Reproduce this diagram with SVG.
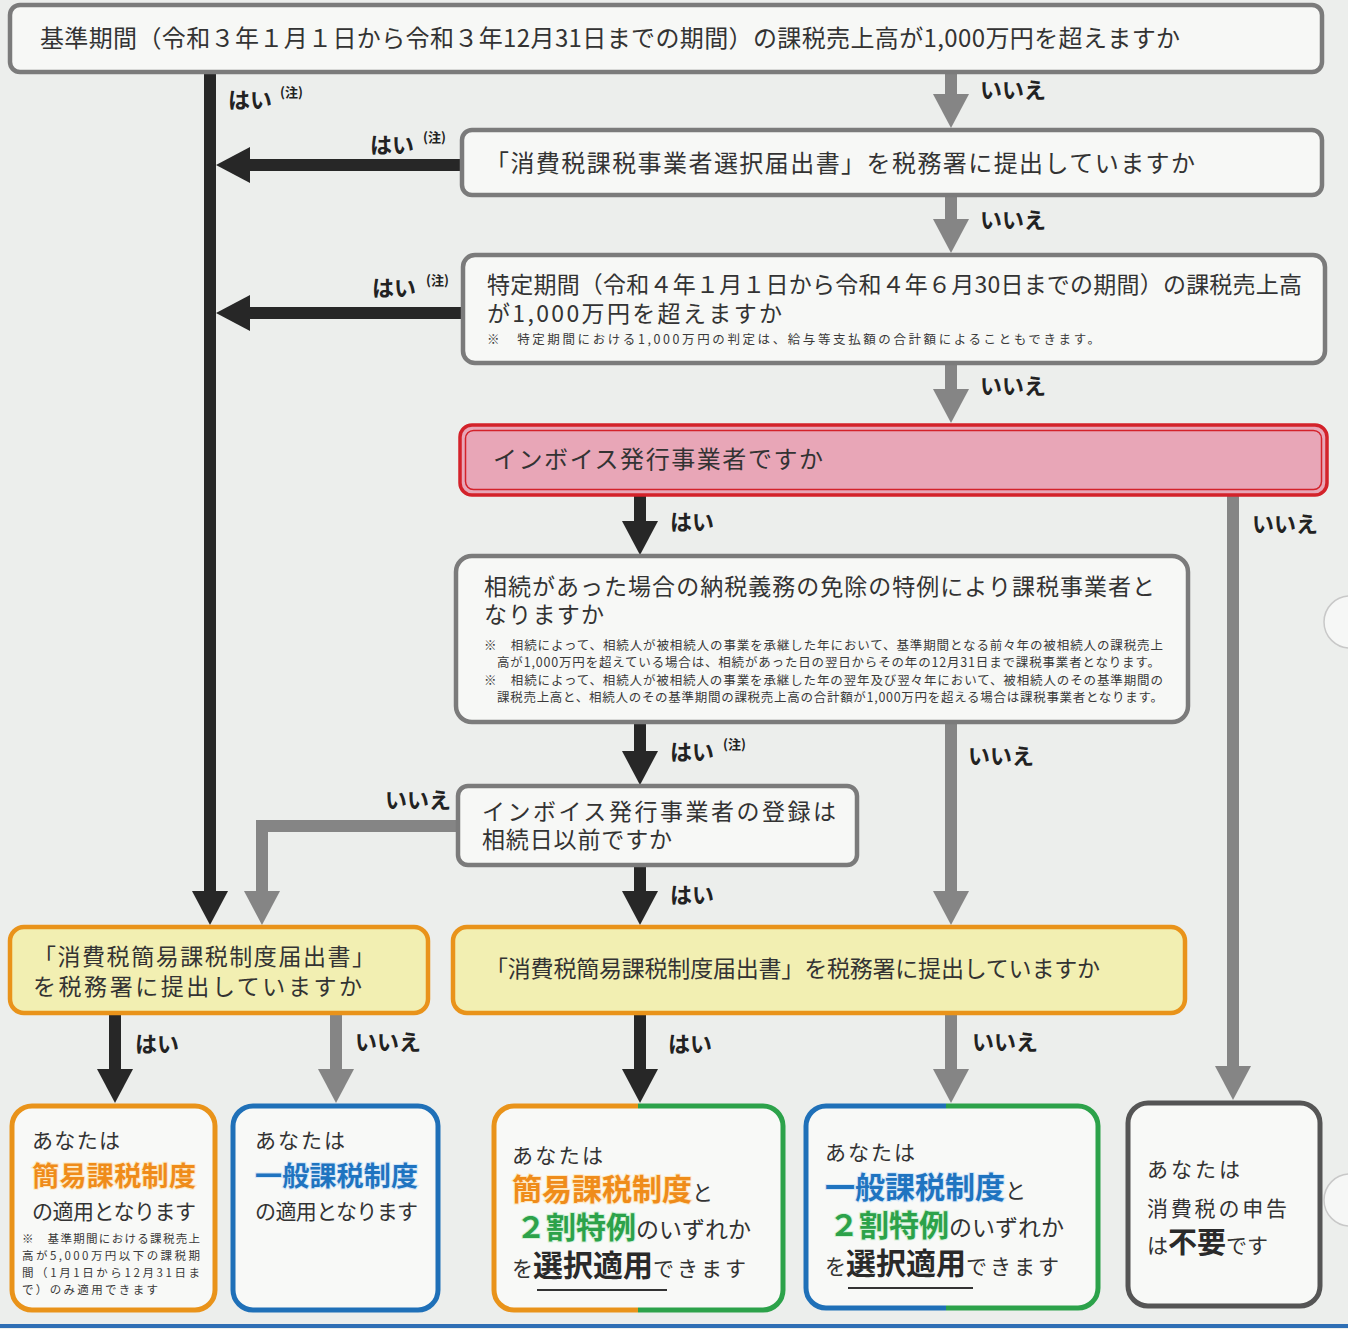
<svg xmlns="http://www.w3.org/2000/svg" width="1348" height="1329" viewBox="0 0 1348 1329">
<defs>
<style>
text{font-family:'Noto Sans CJK JP','Noto Sans',sans-serif;fill:#333}
.q{font-size:24px}
.q2{font-size:23px}
.note{font-size:12.5px;fill:#3a3a3a}
.lbl{font-size:22px;font-weight:700;fill:#222}
.chu{font-size:13px;font-weight:700;fill:#222}
.box{fill:#f7f8f6;stroke:#7b7b7b;stroke-width:4.5}
.ybox{fill:#f2efb2;stroke:#e9931a;stroke-width:4.5}
.res{fill:#f8f9f7;stroke-width:5}
.blk{fill:none;stroke:#272727;stroke-width:12;marker-end:url(#hb)}
.gry{fill:none;stroke:#858585;stroke-width:12;marker-end:url(#hg)}
.blkl{fill:none;stroke:#272727;stroke-width:12}
.r{font-size:21px;fill:#333}
.or{font-weight:700;fill:#ef8c1a;stroke:#fde9c4;stroke-width:2;paint-order:stroke}
.bl{font-weight:700;fill:#1f74c0;stroke:#d6e8f8;stroke-width:2;paint-order:stroke}
.gr{font-weight:700;fill:#2ca24a;stroke:#d4f0d8;stroke-width:2;paint-order:stroke}
.dk{font-weight:700;fill:#2a2a2a}
</style>
<marker id="hb" markerUnits="userSpaceOnUse" markerWidth="34" markerHeight="36" refX="4" refY="18" orient="auto"><path d="M0,0 L34,18 L0,36 z" fill="#272727"/></marker>
<marker id="hg" markerUnits="userSpaceOnUse" markerWidth="34" markerHeight="36" refX="4" refY="18" orient="auto"><path d="M0,0 L34,18 L0,36 z" fill="#858585"/></marker>
<clipPath id="cL"><rect x="480" y="1090" width="158" height="240"/></clipPath>
<clipPath id="cR"><rect x="638" y="1090" width="160" height="240"/></clipPath>
<clipPath id="dL"><rect x="790" y="1090" width="156" height="240"/></clipPath>
<clipPath id="dR"><rect x="946" y="1090" width="170" height="240"/></clipPath>
</defs>
<rect width="1348" height="1329" fill="#eceeec"/>
<line x1="0" y1="1326" x2="1348" y2="1326" stroke="#2f6fb5" stroke-width="4"/>
<circle cx="1350" cy="622" r="26" fill="#f6f7f6" stroke="#c8c8c8" stroke-width="1.5"/>
<circle cx="1350" cy="1200" r="26" fill="#f6f7f6" stroke="#c8c8c8" stroke-width="1.5"/>

<g id="connectors">
<path class="blkl" d="M210,72 L210,150"/>
<path class="blk" d="M210,150 L210,895"/>
<path class="blk" d="M462,165 L246,165"/>
<path class="blk" d="M463,313 L246,313"/>
<path class="gry" d="M951,72 L951,98"/>
<path class="gry" d="M951,195 L951,223"/>
<path class="gry" d="M951,363 L951,393"/>
<path class="blk" d="M640,495 L640,525"/>
<path class="gry" d="M1233,495 L1233,1070"/>
<path class="blk" d="M640,722 L640,755"/>
<path class="gry" d="M951,722 L951,895"/>
<path class="gry" d="M458,826 L262,826 L262,895" stroke-linejoin="miter"/>
<path class="blk" d="M640,865 L640,895"/>
<path class="blk" d="M115,1013 L115,1073"/>
<path class="gry" d="M336,1013 L336,1073"/>
<path class="blk" d="M640,1013 L640,1073"/>
<path class="gry" d="M951,1013 L951,1073"/>
<text class="lbl" x="228" y="108">はい</text><text class="chu" x="280" y="97">(注)</text>
<text class="lbl" x="370" y="153">はい</text><text class="chu" x="423" y="142">(注)</text>
<text class="lbl" x="372" y="296">はい</text><text class="chu" x="426" y="285">(注)</text>
<text class="lbl" x="980" y="98">いいえ</text>
<text class="lbl" x="980" y="228">いいえ</text>
<text class="lbl" x="980" y="394">いいえ</text>
<text class="lbl" x="670" y="530">はい</text>
<text class="lbl" x="1252" y="532">いいえ</text>
<text class="lbl" x="670" y="760">はい</text><text class="chu" x="723" y="749">(注)</text>
<text class="lbl" x="968" y="764">いいえ</text>
<text class="lbl" x="385" y="808">いいえ</text>
<text class="lbl" x="670" y="903">はい</text>
<text class="lbl" x="135" y="1052">はい</text>
<text class="lbl" x="355" y="1050">いいえ</text>
<text class="lbl" x="668" y="1052">はい</text>
<text class="lbl" x="972" y="1050">いいえ</text>
</g>

<g id="n1">
<rect class="box" x="10" y="5" width="1312" height="67" rx="10"/>
<text class="q" x="40" y="47" textLength="1140">基準期間（令和３年１月１日から令和３年12月31日までの期間）の課税売上高が1,000万円を超えますか</text>
</g>
<g id="n2">
<rect class="box" x="462" y="130" width="860" height="65" rx="10"/>
<text class="q" x="485" y="172" textLength="710">「消費税課税事業者選択届出書」を税務署に提出していますか</text>
</g>
<g id="n3">
<rect class="box" x="463" y="255" width="862" height="108" rx="12"/>
<text class="q2" x="487" y="293" textLength="815">特定期間（令和４年１月１日から令和４年６月30日までの期間）の課税売上高</text>
<text class="q2" x="487" y="322" textLength="295">が1,000万円を超えますか</text>
<text class="note" x="487" y="344" textLength="613">※　特定期間における1,000万円の判定は、給与等支払額の合計額によることもできます。</text>
</g>
<g id="n4">
<rect x="460" y="425" width="867" height="70" rx="12" fill="#e8a6b7" stroke="#d3222a" stroke-width="3.5"/>
<rect x="465.5" y="430.5" width="856" height="59" rx="8" fill="none" stroke="#d3222a" stroke-width="1.5"/>
<text class="q" x="493" y="468" textLength="330">インボイス発行事業者ですか</text>
</g>
<g id="n5">
<rect class="box" x="456" y="556" width="732" height="166" rx="16"/>
<text class="q2" x="484" y="595" textLength="671">相続があった場合の納税義務の免除の特例により課税事業者と</text>
<text class="q2" x="484" y="623" textLength="120">なりますか</text>
<text class="note" x="484" y="650" textLength="679">※　相続によって、相続人が被相続人の事業を承継した年において、基準期間となる前々年の被相続人の課税売上</text>
<text class="note" x="497" y="667" textLength="663">高が1,000万円を超えている場合は、相続があった日の翌日からその年の12月31日まで課税事業者となります。</text>
<text class="note" x="484" y="685" textLength="679">※　相続によって、相続人が被相続人の事業を承継した年の翌年及び翌々年において、被相続人のその基準期間の</text>
<text class="note" x="497" y="702" textLength="666">課税売上高と、相続人のその基準期間の課税売上高の合計額が1,000万円を超える場合は課税事業者となります。</text>
</g>
<g id="n6">
<rect class="box" x="458" y="786" width="399" height="79" rx="10"/>
<text class="q2" x="482" y="820" textLength="354">インボイス発行事業者の登録は</text>
<text class="q2" x="482" y="848" textLength="190">相続日以前ですか</text>
</g>
<g id="n7">
<rect class="ybox" x="10" y="927" width="418" height="86" rx="14"/>
<text class="q2" x="33" y="965" textLength="342">「消費税簡易課税制度届出書」</text>
<text class="q2" x="33" y="995" textLength="329">を税務署に提出していますか</text>
</g>
<g id="n8">
<rect class="ybox" x="453" y="927" width="732" height="86" rx="14"/>
<text class="q" x="485" y="977" textLength="615" style="font-size:23px">「消費税簡易課税制度届出書」を税務署に提出していますか</text>
</g>
<g id="r1">
<rect class="res" x="12" y="1106" width="203" height="204" rx="20" stroke="#e9931a"/>
<text class="r" x="32" y="1148" textLength="88">あなたは</text>
<text class="or" x="32" y="1186" style="font-size:27px" textLength="164">簡易課税制度</text>
<text class="r" x="32" y="1219" textLength="164">の適用となります</text>
<text class="note" x="22" y="1243" style="font-size:11.5px" textLength="178">※　基準期間における課税売上</text>
<text class="note" x="22" y="1260" style="font-size:11.5px" textLength="178">高が5,000万円以下の課税期</text>
<text class="note" x="22" y="1277" style="font-size:11.5px" textLength="178">間（1月1日から12月31日ま</text>
<text class="note" x="22" y="1294" style="font-size:11.5px" textLength="136">で）のみ適用できます</text>
</g>
<g id="r2">
<rect class="res" x="233" y="1106" width="205" height="204" rx="20" stroke="#1f70b8"/>
<text class="r" x="255" y="1148" textLength="90">あなたは</text>
<text class="bl" x="255" y="1186" style="font-size:27px" textLength="163">一般課税制度</text>
<text class="r" x="255" y="1219" textLength="163">の適用となります</text>
</g>
<g id="r3">
<rect x="494" y="1106" width="289" height="204" rx="20" fill="#f8f9f7"/>
<rect x="494" y="1106" width="289" height="204" rx="20" fill="none" stroke="#e9931a" stroke-width="5" clip-path="url(#cL)"/>
<rect x="494" y="1106" width="289" height="204" rx="20" fill="none" stroke="#2ca24a" stroke-width="5" clip-path="url(#cR)"/>
<text class="r" x="512" y="1163" textLength="91">あなたは</text>
<text x="512" y="1200"><tspan class="or" style="font-size:30px">簡易課税制度</tspan><tspan class="r">と</tspan></text>
<text x="516" y="1238"><tspan class="gr" style="font-size:30px">２割特例</tspan><tspan class="r" style="font-size:23px">のいずれか</tspan></text>
<text x="512" y="1276"><tspan class="r">を</tspan><tspan class="dk" style="font-size:30px">選択適用</tspan><tspan class="r" letter-spacing="3">できます</tspan></text>
<line x1="537" y1="1290" x2="667" y2="1290" stroke="#333" stroke-width="2"/>
</g>
<g id="r4">
<rect x="806" y="1106" width="292" height="202" rx="20" fill="#f8f9f7"/>
<rect x="806" y="1106" width="292" height="202" rx="20" fill="none" stroke="#1f70b8" stroke-width="5" clip-path="url(#dL)"/>
<rect x="806" y="1106" width="292" height="202" rx="20" fill="none" stroke="#2ca24a" stroke-width="5" clip-path="url(#dR)"/>
<text class="r" x="825" y="1160" textLength="90">あなたは</text>
<text x="825" y="1198"><tspan class="bl" style="font-size:30px">一般課税制度</tspan><tspan class="r">と</tspan></text>
<text x="829" y="1236"><tspan class="gr" style="font-size:30px">２割特例</tspan><tspan class="r" style="font-size:23px">のいずれか</tspan></text>
<text x="825" y="1274"><tspan class="r">を</tspan><tspan class="dk" style="font-size:30px">選択適用</tspan><tspan class="r" letter-spacing="3">できます</tspan></text>
<line x1="848" y1="1288" x2="973" y2="1288" stroke="#333" stroke-width="2"/>
</g>
<g id="r5">
<rect class="res" x="1128" y="1103" width="192" height="203" rx="20" stroke="#555"/>
<text class="r" x="1147" y="1177" textLength="93">あなたは</text>
<text class="r" x="1147" y="1216" textLength="140">消費税の申告</text>
<text x="1147" y="1253"><tspan class="r">は</tspan><tspan class="dk" style="font-size:29px">不要</tspan><tspan class="r">です</tspan></text>
</g>
</svg>
